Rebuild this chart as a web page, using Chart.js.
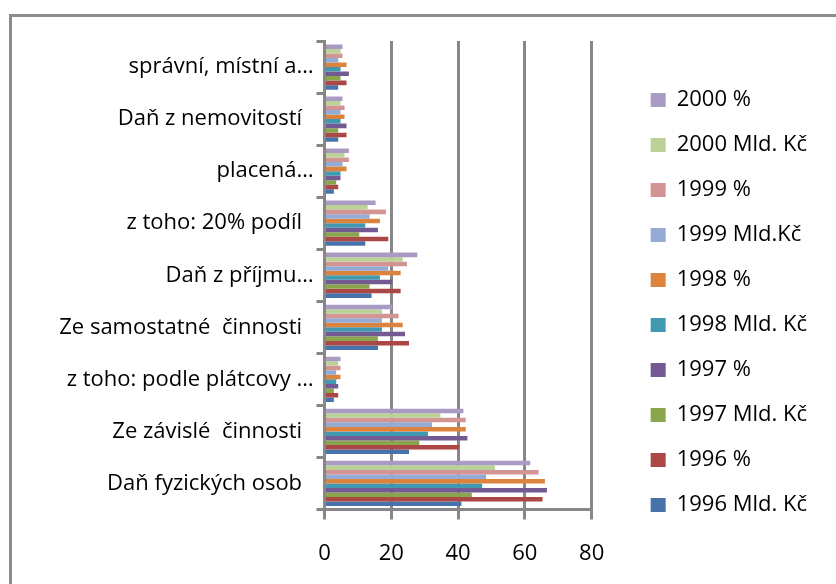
<!DOCTYPE html>
<html>
<head>
<meta charset="utf-8">
<script src="https://cdn.jsdelivr.net/npm/chart.js@4/dist/chart.umd.min.js"></script>
<style>
  html, body { margin: 0; padding: 0; background: #fff; overflow: hidden; }
  #wrap { position: relative; width: 836px; height: 584px; }
  #frame { position: absolute; left: 9px; top: 14px; width: 900px; height: 700px;
           border-left: 3px solid #8c8c8c; border-top: 3px solid #8c8c8c; }
  canvas { position: absolute; left: 0; top: 0; }
</style>
</head>
<body>
<div id="wrap">
  <div id="frame"></div>
  <canvas id="chart" width="836" height="584"></canvas>
</div>
<script>
// categories, bottom to top as in the sheet (trailing spaces as in the source labels)
const categories = [
  "Daň fyzických osob  ",
  "Ze závislé  činnosti  ",
  "z toho: podle plátcovy …",
  "Ze samostatné  činnosti  ",
  "Daň z příjmu…",
  "z toho: 20% podíl  ",
  "placená…",
  "Daň z nemovitostí  ",
  "správní, místní a…"
];

const mld1996 = [41.0, 25.3, 2.8, 16.0, 14.1, 12.2, 2.8, 4.1, 4.1];
const pct1996 = [65.3, 40.3, 4.1, 25.3, 22.8, 19.1, 4.1, 6.6, 6.6];
const mld1997 = [44.1, 28.4, 2.8, 16.0, 13.5, 10.4, 3.5, 4.1, 4.8];
const pct1997 = [66.6, 42.8, 4.1, 24.1, 20.3, 16.0, 4.8, 6.6, 7.3];
const mld1998 = [47.2, 31.0, 3.5, 17.2, 16.6, 12.2, 4.8, 4.8, 4.8];
const pct1998 = [66.0, 42.3, 4.8, 23.4, 22.8, 16.6, 6.6, 6.0, 6.6];
const mld1999 = [48.4, 32.2, 3.5, 17.2, 19.1, 13.5, 5.4, 4.8, 4.1];
const pct1999 = [64.1, 42.3, 4.8, 22.2, 24.7, 18.4, 7.3, 6.0, 5.4];
const mld2000 = [51.0, 34.7, 4.1, 17.2, 23.4, 12.9, 6.0, 4.8, 4.8];
const pct2000 = [61.6, 41.6, 4.8, 20.3, 27.8, 15.3, 7.3, 5.4, 5.4];

const xTicks = [0, 20, 40, 60, 80];

const gray = "#878787";

// legend / bar order top to bottom
const series = [
  { label: "2000 %", data: pct2000, color: "#a99bc4" },
  { label: "2000 Mld. Kč", data: mld2000, color: "#bbd197" },
  { label: "1999 %", data: pct1999, color: "#d29593" },
  { label: "1999 Mld.Kč", data: mld1999, color: "#94abd3" },
  { label: "1998 %", data: pct1998, color: "#dc843e" },
  { label: "1998 Mld. Kč", data: mld1998, color: "#4199b1" },
  { label: "1997 %", data: pct1997, color: "#735a92" },
  { label: "1997 Mld. Kč", data: mld1997, color: "#8aa64d" },
  { label: "1996 %", data: pct1996, color: "#ab4745" },
  { label: "1996 Mld. Kč", data: mld1996, color: "#4673ac" }
];

Chart.defaults.font.family = "'Open Sans'";
Chart.defaults.font.size = 22;
Chart.defaults.color = "#000";

// push the legend a bit away from the plot, like the Excel original
const legendGap = {
  id: "legendGap",
  afterLayout(chart) {
    chart.legend.left += 36;
    chart.legend.right = chart.width;
    chart.legend.top -= 10;
    chart.legend.bottom -= 10;
  },
};

new Chart(document.getElementById("chart").getContext("2d"), {
  type: "bar",
  data: {
    labels: categories,
    datasets: series.map((s) => ({
      label: s.label,
      data: s.data,
      backgroundColor: s.color,
      borderWidth: 0,
      categoryPercentage: 0.87,
      barPercentage: 1.0,
    })),
  },
  options: {
    indexAxis: "y",
    responsive: false,
    animation: false,
    layout: { padding: { left: 0, top: 41, bottom: 0, right: 55 } },
    scales: {
      x: {
        min: xTicks[0],
        max: xTicks[xTicks.length - 1],
        afterBuildTicks: (axis) => {
          axis.ticks = xTicks.map((v) => ({ value: v }));
        },
        grid: { color: gray, lineWidth: 3, tickLength: 10 },
        border: { display: true, color: gray, width: 3 },
        ticks: { padding: 21 },
        afterFit: (axis) => {
          axis.height = 74.5;
        },
      },
      y: {
        reverse: true,
        z: 1,
        grid: { drawOnChartArea: false, color: gray, lineWidth: 3, tickLength: 8 },
        border: { display: true, color: gray, width: 3 },
        ticks: { padding: 3 },
        afterFit: (axis) => {
          axis.width = 324.5;
        },
      },
    },
    plugins: {
      legend: {
        position: "right",
        labels: { boxWidth: 15, boxHeight: 14, padding: 23 },
      },
      tooltip: { enabled: false },
    },
  },
  plugins: [legendGap],
});
</script>
</body>
</html>
